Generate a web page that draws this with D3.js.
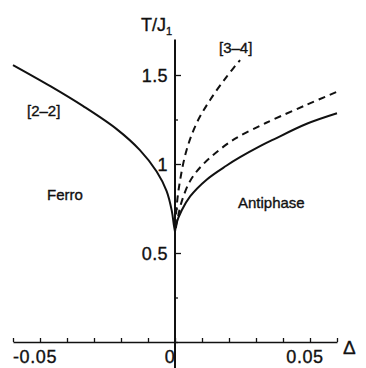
<!DOCTYPE html>
<html>
<head>
<meta charset="utf-8">
<script src="https://cdn.jsdelivr.net/npm/d3@7"></script>
<style>
  body { margin: 0; background: #fff; }
  text { font-family: "Liberation Sans", Arial, sans-serif; fill: #111; stroke: #111; stroke-width: 0.35px; }
</style>
</head>
<body>
<div id="chart"></div>
<script>
// phase boundary [2-2], ferro side (solid)
var ferroDelta = [-0.060, -0.046, -0.034, -0.0216, -0.013, -0.0068, -0.0031, -0.0012, -0.0004, 0];
var ferroT     = [1.556, 1.436, 1.325, 1.196, 1.078, 0.958, 0.848, 0.738, 0.655, 0.62];

// [2-2] antiphase side (solid)
var antiDelta = [0, 0.0005, 0.0025, 0.0056, 0.0117, 0.019, 0.0241, 0.0315, 0.0364, 0.0488, 0.060];
var antiT     = [0.62, 0.665, 0.74, 0.818, 0.912, 0.99, 1.038, 1.10, 1.137, 1.226, 1.285];

// middle dashed curve
var midDelta = [0.0003, 0.0012, 0.0025, 0.0056, 0.0105, 0.0191, 0.0241, 0.0315, 0.0364, 0.0488, 0.060];
var midT     = [0.64, 0.71, 0.79, 0.905, 1.0, 1.11, 1.158, 1.215, 1.25, 1.333, 1.406];

// [3-4] steep dashed curve
var steepDelta = [0.0002, 0.0006, 0.0019, 0.0043, 0.008, 0.013, 0.0191, 0.0241];
var steepT     = [0.65, 0.76, 0.91, 1.079, 1.229, 1.36, 1.49, 1.584];

var xTickValues = d3.range(-6, 7).map(d => d / 100);
var xTickLabels = {"-0.05": "-0.05", "0": "0", "0.05": "0.05"};
var yTickValues = d3.range(0, 7).map(d => d / 4);
var yTickLabels = {"0.5": "0.5", "1": "1", "1.5": "1.5"};

var svgWidth = 366, svgHeight = 368;

var svg = d3.select("#chart")
    .append("svg")
    .attr("width", svgWidth)
    .attr("height", svgHeight);

var x = d3.scaleLinear().domain([-0.06, 0.06]).range([13, 337]);
var y = d3.scaleLinear().domain([0, 1.7]).range([342, 39.4]);

// x axis
var xAxis = d3.axisTop(x)
    .tickValues(xTickValues)
    .tickSize(4)
    .tickSizeOuter(0)
    .tickFormat("");

svg.append("g")
    .attr("transform", `translate(0, ${y(0)})`)
    .call(xAxis)
    .call(g => g.select(".domain").attr("stroke", "#111").attr("stroke-width", 1.6))
    .call(g => g.selectAll(".tick line").attr("stroke", "#111").attr("stroke-width", 1.3));

svg.append("g")
    .selectAll("text")
    .data(xTickValues.filter(d => xTickLabels[String(d)] !== undefined))
    .enter()
    .append("text")
    .attr("x", d => x(d) - 5)
    .attr("y", 363)
    .attr("text-anchor", "middle")
    .attr("font-size", "18px")
    .attr("letter-spacing", "0.6px")
    .text(d => xTickLabels[String(d)]);

// y axis
var yAxis = d3.axisRight(y)
    .tickValues(yTickValues)
    .tickSize(4)
    .tickSizeOuter(0)
    .tickFormat("");

svg.append("g")
    .attr("transform", `translate(${x(0)}, 0)`)
    .call(yAxis)
    .call(g => g.select(".domain").remove())
    .call(g => g.selectAll(".tick line").attr("stroke", "#111").attr("stroke-width", 1.3)
        .attr("x2", d => yTickLabels[String(d)] ? 6 : 3));

svg.append("line")
    .attr("x1", x(0)).attr("x2", x(0))
    .attr("y1", y(1.7)).attr("y2", svgHeight)
    .attr("stroke", "#111")
    .attr("stroke-width", 2);

svg.append("g")
    .selectAll("text")
    .data(yTickValues.filter(d => yTickLabels[String(d)] !== undefined))
    .enter()
    .append("text")
    .attr("x", x(0) - 7)
    .attr("y", d => y(d) + 6.5)
    .attr("text-anchor", "end")
    .attr("font-size", "18px")
    .attr("letter-spacing", "0.4px")
    .text(d => yTickLabels[String(d)]);

// axis titles
var yTitle = svg.append("text")
    .attr("x", 141)
    .attr("y", 31)
    .attr("font-size", "18px");
yTitle.append("tspan").text("T/J");
yTitle.append("tspan").attr("font-size", "11px").attr("dy", 4).text("1");

svg.append("text")
    .attr("x", 343)
    .attr("y", 354)
    .attr("font-size", "19px")
    .text("Δ");

// curves
var line = d3.line()
    .x(d => x(d[0]))
    .y(d => y(d[1]))
    .curve(d3.curveCatmullRom.alpha(0.5));

function drawCurve(deltas, temps, dashed) {
    svg.append("path")
        .datum(deltas.map((d, i) => [d, temps[i]]))
        .attr("d", line)
        .attr("fill", "none")
        .attr("stroke", "#111")
        .attr("stroke-width", 2)
        .attr("stroke-dasharray", dashed ? "7,5" : null);
}

drawCurve(ferroDelta, ferroT, false);
drawCurve(antiDelta, antiT, false);
drawCurve(midDelta, midT, true);
drawCurve(steepDelta, steepT, true);

// labels
svg.append("text").attr("x", 27).attr("y", 116).attr("font-size", "15px").text("[2–2]");
svg.append("text").attr("x", 219).attr("y", 53).attr("font-size", "15px").text("[3–4]");
svg.append("text").attr("x", 47).attr("y", 200).attr("font-size", "15px").text("Ferro");
svg.append("text").attr("x", 238).attr("y", 208).attr("font-size", "15px").text("Antiphase");
</script>
</body>
</html>
